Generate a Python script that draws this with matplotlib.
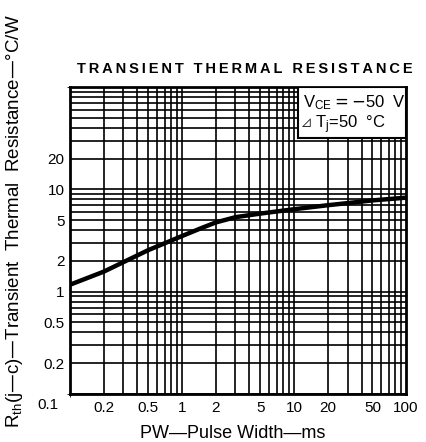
import numpy as np
import matplotlib.pyplot as plt
from matplotlib.patches import Rectangle
from matplotlib.ticker import LogLocator, NullFormatter, FixedLocator, FixedFormatter

plt.rcParams['font.family'] = ['Liberation Sans', 'DejaVu Sans', 'Noto Sans CJK SC']

# 曲線の読み取り値
pw = [0.1, 0.2, 0.5, 1, 1.5, 2, 3, 5, 10, 20, 50, 100]
rth = [1.17, 1.57, 2.55, 3.5, 4.2, 4.75, 5.35, 5.8, 6.4, 7.0, 7.8, 8.3]

xticks = [0.2, 0.5, 1, 2, 5, 10, 20, 50, 100]
xlabels = ['0.2', '0.5', '1', '2', '5', '10', '20', '50', '100']
yticks = [0.2, 0.5, 1, 2, 5, 10, 20]
ylabels = ['0.2', '0.5', '1', '2', '5', '10', '20']

fig = plt.figure(figsize=(4.27, 4.42), dpi=100)
ax = fig.add_axes([0.164, 0.1086, 0.787, 0.6944])
ax.set_xscale('log')
ax.set_yscale('log')
ax.set_xlim(0.1, 100)
ax.set_ylim(0.1, 100)

# 方眼
for v in np.concatenate([np.arange(1, 10) * 10.0 ** e for e in range(-1, 2)]):
    ax.axvline(v, color='black', lw=1.2, zorder=1)
    ax.axhline(v, color='black', lw=1.2, zorder=1)

ax.plot(pw, rth, color='black', lw=3.2, solid_capstyle='butt', zorder=3)

ax.xaxis.set_major_locator(FixedLocator(xticks))
ax.xaxis.set_major_formatter(FixedFormatter(xlabels))
ax.yaxis.set_major_locator(FixedLocator(yticks))
ax.yaxis.set_major_formatter(FixedFormatter(ylabels))
ax.xaxis.set_minor_locator(LogLocator(subs=[]))
ax.yaxis.set_minor_locator(LogLocator(subs=[]))
ax.xaxis.set_minor_formatter(NullFormatter())
ax.yaxis.set_minor_formatter(NullFormatter())
ax.tick_params(length=0, labelsize=11, pad=5)
ax.tick_params(axis='y', pad=4)
for s in ax.spines.values():
    s.set_linewidth(2)
    s.set_zorder(4)

ax.text(-0.065, -0.035, '0.1', transform=ax.transAxes, fontsize=11, ha='center', va='center')

# 条件ボックス
ax.add_patch(Rectangle((0.679, 0.834), 0.321, 0.166, transform=ax.transAxes,
                       fc='white', ec='black', lw=1.5, zorder=5))
ax.text(0.694, 0.935, r'$\mathregular{V_{CE}}$$=-$50  V', transform=ax.transAxes,
        fontsize=12, va='baseline', ha='left', zorder=6)
ax.text(0.686, 0.868, '⊿', transform=ax.transAxes, family='Noto Sans CJK SC',
        fontsize=8, va='baseline', ha='left', zorder=6)
ax.text(0.73, 0.866, r'$\mathregular{T_j}$=50  °C', transform=ax.transAxes,
        fontsize=12, va='baseline', ha='left', zorder=6)

title = '\u2009'.join('TRANSIENT THERMAL RESISTANCE')
fig.text(0.573, 0.843, title, fontsize=10.5, fontweight='bold',
         ha='center', va='center')
fig.text(0.546, 0.02, 'PW—Pulse Width—ms', fontsize=13, ha='center', va='center')
fig.text(0.033, 0.5, r'$\mathregular{R_{th}}$(j—c)—Transient  Thermal  Resistance—°C/W',
         fontsize=13.5, rotation=90, ha='center', va='center')

fig.savefig('out.png', dpi=100)
